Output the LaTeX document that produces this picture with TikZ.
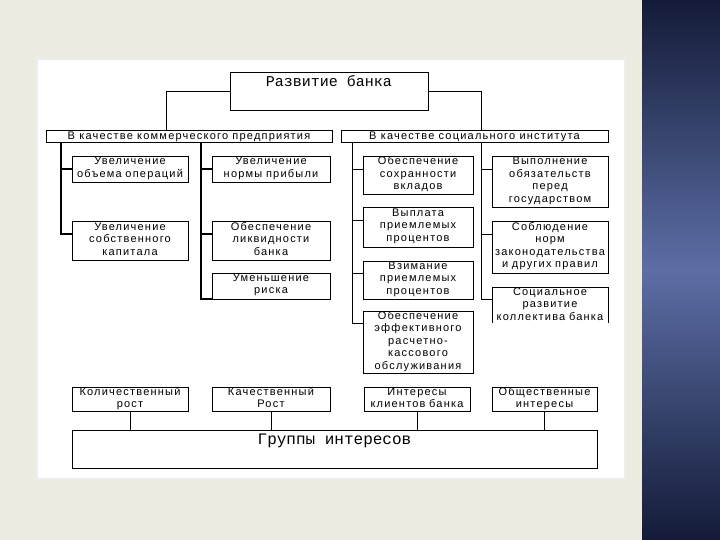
\documentclass[tikz,border=0pt]{standalone}
\usepackage{fontspec}
\usepackage{tikz}
\newfontfamily\blokfont[LetterSpace=11]{Liberation Sans}
\newfontfamily\zagfont{Liberation Mono}
\definecolor{fon}{RGB}{237,234,224}
\definecolor{polosa}{RGB}{20,27,56}
\definecolor{polosamid}{RGB}{92,110,165}

\begin{document}
\begin{tikzpicture}[x=1pt, y=-1pt,
		blok/.style={draw, line width=1pt, font=\blokfont\fontsize{11}{12.5}\selectfont, align=center, anchor=north west, inner xsep=1pt, inner ysep=0pt, outer sep=0pt, text height=8pt},
		shapka/.style={blok, inner sep=0pt, minimum height=12pt, text depth=2pt},
		zag/.style={draw, line width=1pt, font=\zagfont\fontsize{15}{15}\selectfont, anchor=north west, inner sep=0pt, outer sep=0pt, text height=14pt, text depth=24pt},
		stvol/.style={line width=1.6pt}]
	\useasboundingbox (0,0) rectangle (720,540);
	\fill[fon] (0,0) rectangle (720,540);
	\fill[black!7] (35,57) rectangle (626,480);
	\fill[white] (38,60) rectangle (624,478);
	\shade[top color=polosa, bottom color=polosa, middle color=polosamid] (642,0) rectangle (720,540);

	\node[zag, minimum width=198pt] (razv) at (230,73) {Развитие банка};
	\node[shapka, minimum width=286pt] (kom) at (46,131) {В качестве коммерческого предприятия};
	\node[shapka, minimum width=267pt] (soc) at (341,131) {В качестве социального института};

	% kommercheskoe predpriyatie
	\node[blok, text width=114pt, text depth=18pt] (objem) at (72,157) {Увеличение\\объема операций};
	\node[blok, text width=116pt, text depth=18pt] (normy) at (212,157) {Увеличение\\нормы прибыли};
	\node[blok, text width=114pt, text depth=30pt] (kapital) at (72,222) {Увеличение\\собственного\\капитала};
	\node[blok, text width=116pt, text depth=30pt] (likvid) at (212,222) {Обеспечение\\ликвидности\\банка};
	\node[blok, text width=116pt, text depth=18pt] (risk) at (212,273) {Уменьшение\\риска};

	% socialnyj institut
	\node[blok, text width=108pt, text depth=30pt] (vklady) at (363,157) {Обеспечение\\сохранности\\вкладов};
	\node[blok, text width=108pt, text depth=31pt] (vyplata) at (363,208) {Выплата\\приемлемых\\процентов};
	\node[blok, text width=108pt, text depth=30pt] (vzimanie) at (363,261) {Взимание\\приемлемых\\процентов};
	\node[blok, text width=108pt, text depth=54pt] (rko) at (363,311) {Обеспечение\\эффективного\\расчетно-\\кассового\\обслуживания};
	\node[blok, text width=114pt, text depth=43pt] (gos) at (492,157) {Выполнение\\обязательств\\перед\\государством};
	\node[blok, text width=114pt, text depth=43pt] (zakon) at (492,222) {Соблюдение\\норм\\законодательства\\и других правил};
	\node[blok, draw=none, text width=114pt, text depth=28pt] (kollektiv) at (492,287) {Социальное\\развитие\\коллектива банка};

	% gruppy interesov
	\node[blok, text width=114pt, text depth=16pt] (kolich) at (72,387) {Количественный\\рост};
	\node[blok, text width=116pt, text depth=16pt] (kachest) at (212,387) {Качественный\\Рост};
	\node[blok, text width=104pt, text depth=16pt] (klienty) at (364,387) {Интересы\\клиентов банка};
	\node[blok, text width=103pt, text depth=16pt] (obshch) at (492,387) {Общественные\\интересы};
	\node[zag, minimum width=525pt, font=\zagfont\fontsize{16}{16}\selectfont] (gruppy) at (72,430) {Группы интересов};

	\coordinate (kv) at ([xshift=120pt]kom.north west);
	\coordinate (sv) at ([xshift=140pt]soc.north west);
	\draw[line width=1pt] (razv.west) -| (kv);
	\draw[line width=1pt] (razv.east) -| (sv);

	\coordinate (k1) at ([xshift=15pt]kom.south west);
	\coordinate (k2) at ([xshift=155pt]kom.south west);
	\coordinate (s1) at ([xshift=11pt]soc.south west);
	\coordinate (s2) at ([xshift=140pt]soc.south west);
	\foreach \b in {objem,kapital}
		\draw[stvol] (k1) |- ([yshift=-12pt]\b.north west);
	\foreach \b in {normy,likvid}
		\draw[stvol] (k2) |- ([yshift=-12pt]\b.north west);
	\draw[stvol] (k2) |- (risk.south west);
	\foreach \b in {vklady,vyplata,vzimanie,rko}
		\draw (s1) |- ([yshift=-12pt]\b.north west);
	\foreach \b in {gos,zakon,kollektiv}
		\draw (s2) |- ([yshift=-12pt]\b.north west);
	\draw (kollektiv.south west) |- (kollektiv.north east) -- (kollektiv.south east);
	\foreach \b in {kolich,kachest,klienty,obshch}
		\draw (\b.south) -- (\b.south |- gruppy.north);
\end{tikzpicture}
\end{document}
